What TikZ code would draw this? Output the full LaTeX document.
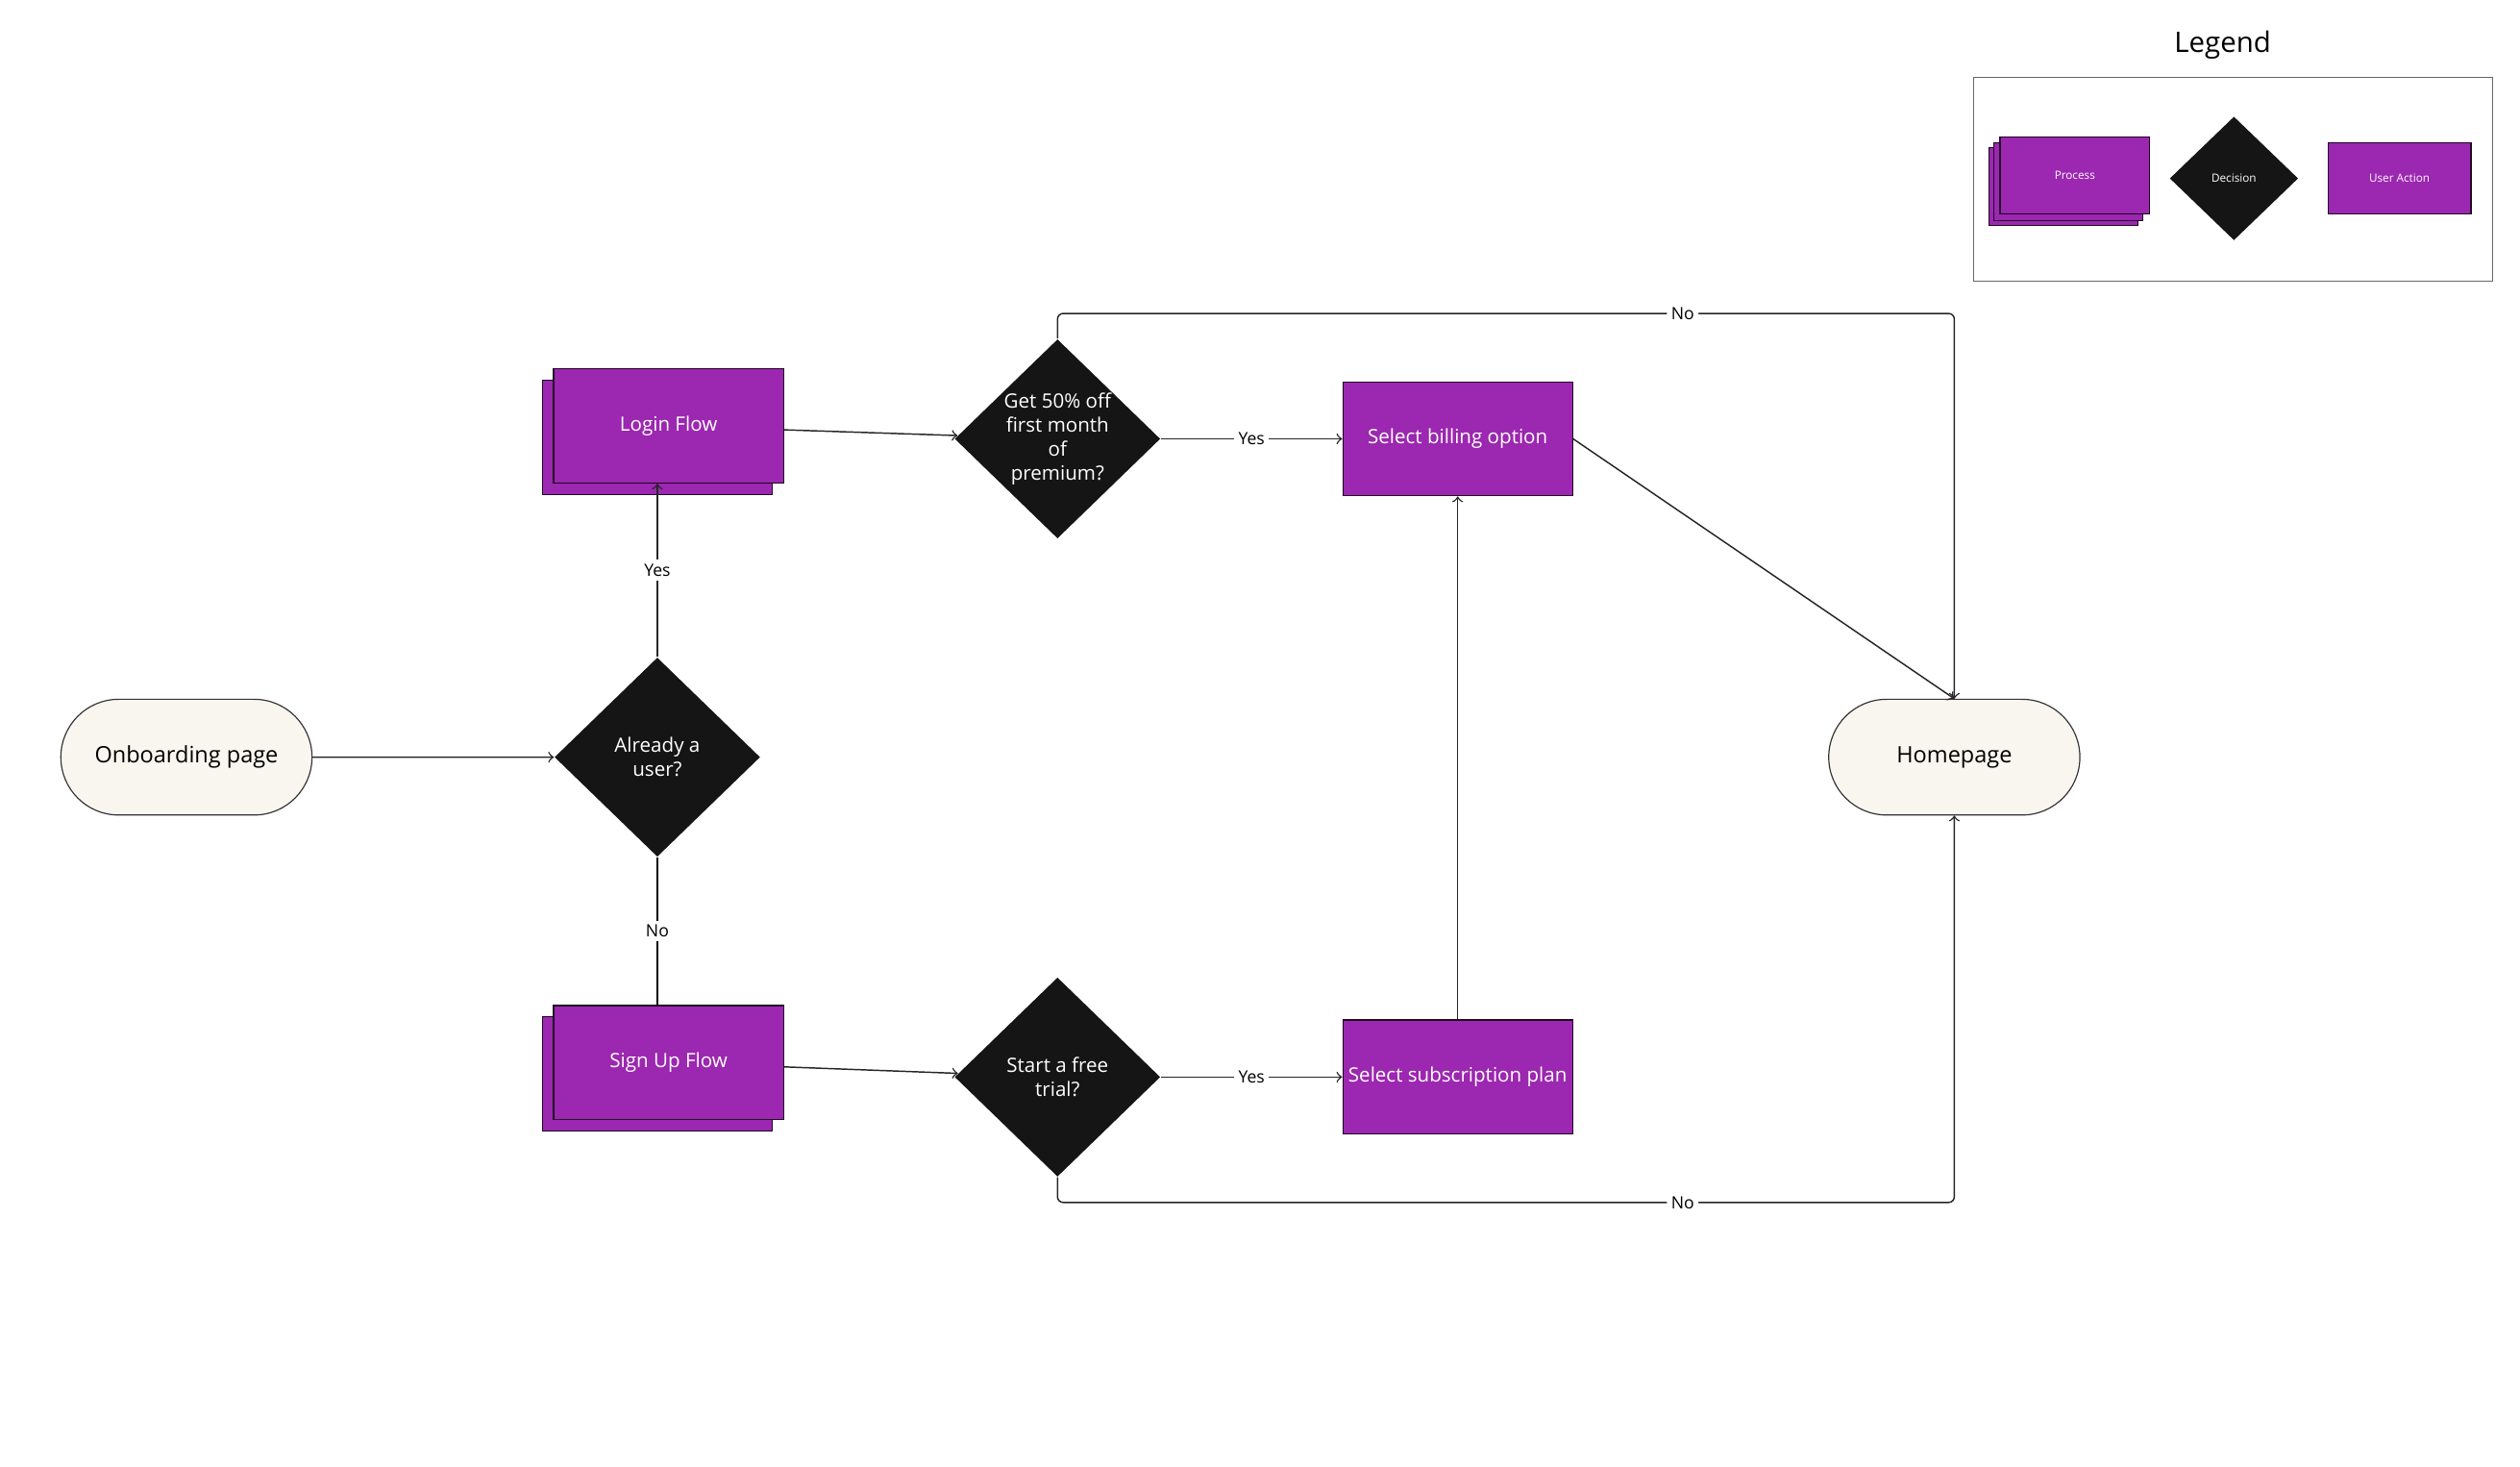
\documentclass[tikz,border=0pt]{standalone}
\usepackage{fontspec}
\setmainfont{Open Sans}
\usetikzlibrary{shapes.geometric,shadows}
\definecolor{procpurple}{RGB}{156,39,176}
\definecolor{decblack}{RGB}{21,21,21}
\definecolor{termcream}{RGB}{248,246,238}
\tikzset{
  process/.style={draw=black!80!procpurple,fill=procpurple,text=white,rectangle,
    minimum width=28.6mm,minimum height=14.2mm,inner sep=1pt,font=\fontsize{7}{8}\selectfont,
    copy shadow={shadow xshift=-1.4mm,shadow yshift=-1.4mm,draw=black!80!procpurple,fill=procpurple}},
  action/.style={draw=black!80!procpurple,fill=procpurple,text=white,rectangle,
    minimum width=28.6mm,minimum height=14.2mm,inner sep=1pt,font=\fontsize{7}{8}\selectfont},
  decision/.style={diamond,fill=decblack,text=white,aspect=1.03,minimum width=25.6mm,
    minimum height=24.8mm,inner sep=0pt,align=center,font=\fontsize{7}{8.6}\selectfont},
  terminal/.style={draw=black!80,fill=termcream,rounded rectangle,minimum width=33.6mm,
    minimum height=14.4mm,font=\fontsize{8}{9}\selectfont},
  flow/.style={->,draw=black!85,line width=0.5pt},
  lbl/.style={fill=white,inner sep=1.5pt,font=\fontsize{6}{7}\selectfont},
}
\usetikzlibrary{shapes.misc}
\begin{document}
\begin{tikzpicture}[x=0.2mm,y=-0.2mm]
    \useasboundingbox (0,0) rectangle (1568,912);
    % Main flow nodes
    \node[terminal] (onboard) at (116,471) {Onboarding page};
    \node[decision] (user)    at (409,471) {Already a\\user?};
    \node[process]  (login)   at (416,265) {Login Flow};
    \node[process]  (signup)  at (416,661) {Sign Up Flow};
    \node[decision] (promo)   at (658,273) {Get 50\% off\\first month\\of\\premium?};
    \node[decision] (trial)   at (658,670) {Start a free\\trial?};
    \node[action]   (billing) at (907,273) {Select billing option};
    \node[action]   (plan)    at (907,670) {Select subscription plan};
    \node[terminal] (home)    at (1216,471) {Homepage};
    % Connectors
    \draw[flow] (onboard) -- (user);
    \draw[flow] (user.north) -- node[lbl] {Yes} (user.north |- login.south);
    \draw (user.south) -- node[lbl,font=\fontsize{6}{7}\selectfont] {No} (user.south |- signup.north);
    \draw[flow] (login) -- (promo);
    \draw[flow] (promo) -- node[lbl] {Yes} (billing);
    \draw[flow,rounded corners=2pt] (promo.north) |- (1047,195) node[lbl] {No} -| (home.north);
    \draw[flow] (billing.east) -- (home.north);
    \draw[flow] (signup) -- (trial);
    \draw[flow] (trial) -- node[lbl] {Yes} (plan);
    \draw[flow,rounded corners=2pt] (trial.south) |- (1047,748) node[lbl] {No} -| (home.south);
    \draw[flow] (plan) -- (billing);
    % Legend
    \node[font=\fontsize{10}{12}\selectfont] (legtitle) at (1383,28) {Legend};
    \node[draw=black!60,minimum width=64.6mm,minimum height=25.4mm] (legbox) at (1389.5,111.5) {};
    \node[process,minimum width=18.6mm,minimum height=9.6mm,font=\fontsize{4}{5}\selectfont,
      copy shadow={shadow xshift=-0.8mm,shadow yshift=-0.8mm,draw=black!80!procpurple,fill=procpurple}]
      (legproc) at (1291,109) {Process};
    \node[decision,minimum width=16mm,minimum height=15.4mm,font=\fontsize{4}{5}\selectfont]
      (legdec) at (1390,111) {Decision};
    \node[action,minimum width=17.8mm,minimum height=8.8mm,font=\fontsize{4}{5}\selectfont]
      (legact) at (1493,111) {User Action};
\end{tikzpicture}
\end{document}
